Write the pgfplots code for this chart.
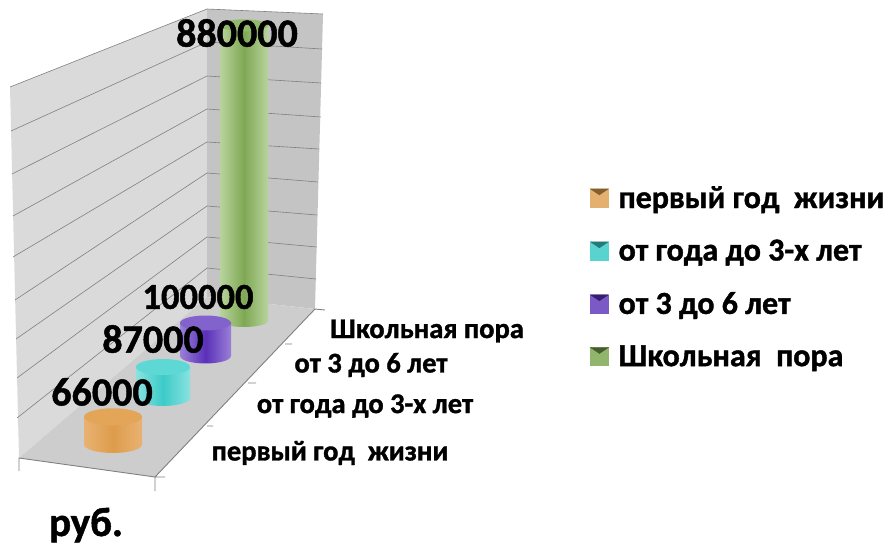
\documentclass[border=0pt]{standalone}
\usepackage{fontspec}
\setmainfont{Carlito}[BoldFont={Carlito Bold},BoldFeatures={FakeBold=1.2}]
\usepackage{pgfplots}
\pgfplotsset{compat=1.18}

\definecolor{orE}{HTML}{E9B272}\definecolor{orM}{HTML}{DD9C4C}\definecolor{orT}{HTML}{E3A659}
\definecolor{cyE}{HTML}{8AE2E0}\definecolor{cyM}{HTML}{3CCBC8}\definecolor{cyT}{HTML}{5ED8D5}
\definecolor{puE}{HTML}{9A80D8}\definecolor{puM}{HTML}{5A30B8}\definecolor{puT}{HTML}{8262CC}
\definecolor{grE}{HTML}{B8D49D}\definecolor{grM}{HTML}{7FA854}\definecolor{grT}{HTML}{93BA6C}
\definecolor{wallL}{HTML}{DADADA}\definecolor{wallB}{HTML}{C4C4C4}\definecolor{floorc}{HTML}{CDCDCD}

\pgfplotsset{
  canvas/.style={width=888pt, height=546pt, scale only axis, axis lines=none,
    xmin=0, xmax=888, clip=false},
}

% one cylinder: cx, r, ry, base row, px per 1000, value, edge, mid, top
\newcommand{\cyl}[9]{%
  \pgfdeclareplotmark{cylbot}{\shade[draw=none,left color=#7,right color=#7,middle color=#8]
    (0pt,0pt) ellipse [x radius=#2pt, y radius=#3pt];}%
  \pgfdeclareplotmark{cyltop}{\fill[draw=none,#9] (0pt,0pt) ellipse [x radius=#2pt, y radius=#3pt];}%
  \pgfmathsetmacro{\lo}{-(546-#4)/#5}%
  \pgfmathsetmacro{\hi}{#4/#5}%
  \pgfmathsetmacro{\bw}{2*#2}%
  \begin{axis}[canvas, ymin=\lo e3, ymax=\hi e3]
    \addplot[only marks, mark=cylbot, mark options={draw=none}] coordinates {(#1,0)};
    \addplot[ybar, bar width=\bw pt, draw=none, left color=#7, right color=#7, middle color=#8]
      coordinates {(#1,#6)};
    \addplot[only marks, mark=cyltop, mark options={draw=none}] coordinates {(#1,#6)};
  \end{axis}}

\begin{document}
\begin{tikzpicture}
\useasboundingbox (0pt,0pt) rectangle (888pt,546pt);
% walls and floor, in pixels of the picture
\begin{axis}[canvas, ymin=0, ymax=546, y dir=reverse, unbounded coords=jump]
  \addplot[fill=wallL, draw=none] coordinates {(10,87) (207,9) (207,297) (19,458)} --cycle;
  \addplot[fill=wallB, draw=none] coordinates {(207,9) (323,14) (315,309) (207,297)} --cycle;
  \addplot[fill=floorc, draw=none] coordinates {(19,458) (155,477) (315,309) (207,297)} --cycle;
  % grid
  \addplot[gray, line width=0.6pt] coordinates {
    (10,87) (207,9) (323,14) (nan,nan)
    (11,131) (207,42) (322,49) (nan,nan)
    (12,174) (207,76) (321,83) (nan,nan)
    (13,216) (207,109) (321,117) (nan,nan)
    (13,257) (207,142) (319,149) (nan,nan)
    (15,300) (207,173) (318,182) (nan,nan)
    (16,339) (207,206) (317,215) (nan,nan)
    (17,378) (207,237) (317,247) (nan,nan)
    (17,418) (207,268) (316,279)
  };
  % floor edges and ticks
  \addplot[gray, line width=0.9pt] coordinates {
    (19,471) (19,458) (155,477) (155,491) (nan,nan)
    (155,477) (165,477) (nan,nan)
    (155,477) (315,309) (325,310) (nan,nan)
    (207,426) (213,426) (nan,nan)
    (248,383) (256,383) (nan,nan)
    (285,344) (292,344)
  };
\end{axis}
% back to front
\cyl{244}{24}{6}{321}{0.336}{880000}{grE}{grM}{grT}
\cyl{205.5}{25.5}{7.5}{356}{0.33}{100000}{puE}{puM}{puT}
\cyl{163}{27}{8}{398}{0.356}{87000}{cyE}{cyM}{cyT}
\cyl{113}{29}{8.5}{444.5}{0.42}{66000}{orE}{orM}{orT}
% texts and legend
\begin{axis}[canvas, ymin=0, ymax=546, y dir=reverse,
    legend cell align=left,
    legend style={at={(axis cs:590,184)}, anchor=north west, draw=none, fill=none,
      font=\bfseries\fontsize{32}{33}\selectfont, row sep=26pt, inner sep=0pt,
      /tikz/every odd column/.append style={column sep=8pt}}]
  \addlegendimage{legend image code/.code={\fill[orM!80!white] (0pt,-9pt) rectangle (18pt,9pt);
    \fill[orM!60!black] (0pt,9pt) -- (18pt,9pt) -- (9pt,3pt) -- cycle;}}
  \addlegendentry{первый год\ \ жизни}
  \addlegendimage{legend image code/.code={\fill[cyM!85!white] (0pt,-9pt) rectangle (18pt,9pt);
    \fill[cyM!60!black] (0pt,9pt) -- (18pt,9pt) -- (9pt,3pt) -- cycle;}}
  \addlegendentry{от года до 3-х лет}
  \addlegendimage{legend image code/.code={\fill[puM!80!white] (0pt,-9pt) rectangle (18pt,9pt);
    \fill[puM!60!black] (0pt,9pt) -- (18pt,9pt) -- (9pt,3pt) -- cycle;}}
  \addlegendentry{от 3 до 6 лет}
  \addlegendimage{legend image code/.code={\fill[grM!85!white] (0pt,-9pt) rectangle (18pt,9pt);
    \fill[grM!55!black] (0pt,9pt) -- (18pt,9pt) -- (9pt,3pt) -- cycle;}}
  \addlegendentry{Школьная\ \ пора}
  \newcommand{\val}{\bfseries\fontsize{40}{40}\selectfont}
  \newcommand{\cat}{\bfseries\fontsize{28.5}{29}\selectfont}
  \node[font=\val] at (axis cs:237,33) {880000};
  \node[font=\bfseries\fontsize{36.5}{37}\selectfont] at (axis cs:198,297) {100000};
  \node[font=\val] at (axis cs:153,339) {87000};
  \node[font=\val] at (axis cs:102,392) {66000};
  \node[font=\cat] at (axis cs:427,331) {Школьная пора};
  \node[font=\cat] at (axis cs:371,365) {от 3 до 6 лет};
  \node[font=\cat] at (axis cs:365,406) {от года до 3-х лет};
  \node[font=\cat] at (axis cs:330,453) {первый год\ \ жизни};
  \node[font=\bfseries\fontsize{41}{41}\selectfont, anchor=base] at (axis cs:86,536) {руб.};
\end{axis}
\end{tikzpicture}
\end{document}
